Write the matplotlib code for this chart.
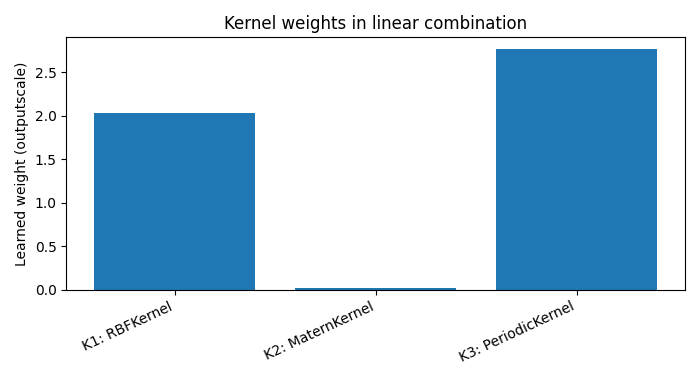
import matplotlib
matplotlib.use("Agg")
import matplotlib.pyplot as plt

kernels = ["K1: RBFKernel", "K2: MaternKernel", "K3: PeriodicKernel"]
weights = [2.03, 0.02, 2.765]

fig, ax = plt.subplots(figsize=(7, 3.8), dpi=100)
ax.bar(kernels, weights, color="#1f77b4")
ax.set_ylabel("Learned weight (outputscale)")
ax.set_title("Kernel weights in linear combination")
plt.setp(ax.get_xticklabels(), rotation=25, ha="right")
fig.tight_layout()
fig.savefig("out.png")
